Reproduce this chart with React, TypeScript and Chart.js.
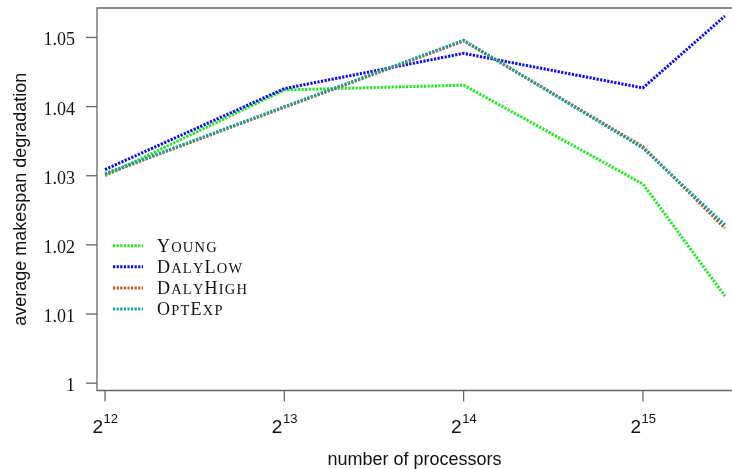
import React, { useEffect, useRef } from "react";
import { Chart, registerables } from "chart.js";

Chart.register(...registerables);

// ---- data ----
const processors = [4096, 8192, 16384, 32768, 45000];
const xTickExponents = [12, 13, 14, 15];
const yTickValues = [1, 1.01, 1.02, 1.03, 1.04, 1.05];
const seriesNames = ["Young", "DalyLow", "DalyHigh", "OptExp"];
const youngValues = [1.03, 1.0424, 1.0431, 1.0288, 1.0126];
const dalyLowValues = [1.0309, 1.0426, 1.0477, 1.0427, 1.0531];
const dalyHighValues = [1.0302, 1.0399, 1.0495, 1.0342, 1.0224];
const optExpValues = [1.0303, 1.04, 1.0496, 1.034, 1.0229];
const seriesColors = ["#1eea1e", "#0a0aff", "#b85a26", "#1a9e9e"];
const xAxisTitle = "number of processors";
const yAxisTitle = "average makespan degradation";

const allSeries = [youngValues, dalyLowValues, dalyHighValues, optExpValues];

const AXIS_COLOR = "#666666";
const DASH = [2.2, 1.4];
const LINE_W = 3;

function drawSmallCaps(ctx: CanvasRenderingContext2D, text: string, x: number, y: number) {
  let cx = x;
  for (const ch of text) {
    const upper = ch === ch.toUpperCase();
    ctx.font = upper ? "18px 'Liberation Serif'" : "14.5px 'Liberation Serif'";
    const c = ch.toUpperCase();
    ctx.fillText(c, cx, y);
    cx += ctx.measureText(c).width + 1.2;
  }
}

const decorPlugin = {
  id: "decor",
  afterDraw(chart: any) {
    const ctx: CanvasRenderingContext2D = chart.ctx;
    const { left, right, top, bottom } = chart.chartArea;
    const xs = chart.scales.x;
    const ys = chart.scales.y;
    ctx.save();
    ctx.strokeStyle = AXIS_COLOR;
    ctx.lineWidth = 1.3;
    ctx.setLineDash([]);
    // box: left, top, bottom
    ctx.beginPath();
    ctx.moveTo(chart.width, top);
    ctx.lineTo(left, top);
    ctx.lineTo(left, bottom);
    ctx.lineTo(chart.width, bottom);
    ctx.stroke();
    // y ticks
    ctx.fillStyle = "#111";
    ctx.textAlign = "right";
    ctx.textBaseline = "alphabetic";
    ctx.font = "18px 'Liberation Serif'";
    for (const v of yTickValues) {
      const py = ys.getPixelForValue(v);
      ctx.beginPath();
      ctx.moveTo(left - 11, py);
      ctx.lineTo(left, py);
      ctx.stroke();
      ctx.fillText(String(v), left - 22, py + 8);
    }
    // x ticks
    for (const e of xTickExponents) {
      const px = xs.getPixelForValue(e);
      ctx.beginPath();
      ctx.moveTo(px, bottom);
      ctx.lineTo(px, bottom + 11);
      ctx.stroke();
      ctx.font = "19px 'Liberation Sans'";
      const wBase = ctx.measureText("2").width;
      ctx.font = "13px 'Liberation Sans'";
      const wExp = ctx.measureText(String(e)).width;
      const x0 = px - (wBase + wExp) / 2;
      ctx.textAlign = "left";
      ctx.font = "19px 'Liberation Sans'";
      ctx.fillText("2", x0, bottom + 42.5);
      ctx.font = "13px 'Liberation Sans'";
      ctx.fillText(String(e), x0 + wBase + 0.5, bottom + 32.5);
    }
    // axis titles
    ctx.font = "18px 'Liberation Sans'";
    ctx.textAlign = "center";
    ctx.fillText(xAxisTitle, (left + right) / 2, 465);
    ctx.save();
    ctx.translate(26, (top + bottom) / 2);
    ctx.rotate(-Math.PI / 2);
    ctx.fillText(yAxisTitle, 0, 0);
    ctx.restore();
    // legend
    const legendBaseY = 251.7;
    const legendStep = 21.1;
    seriesNames.forEach((name, i) => {
      const by = legendBaseY + i * legendStep;
      ctx.strokeStyle = seriesColors[i];
      ctx.lineWidth = LINE_W;
      ctx.setLineDash(DASH);
      ctx.beginPath();
      ctx.moveTo(113, by - 6);
      ctx.lineTo(143, by - 6);
      ctx.stroke();
      ctx.setLineDash([]);
      ctx.fillStyle = "#111";
      ctx.textAlign = "left";
      drawSmallCaps(ctx, name, 157, by);
    });
    ctx.restore();
  },
};

export default function App() {
  const ref = useRef<HTMLCanvasElement | null>(null);
  useEffect(() => {
    if (!ref.current) return;
    const xVals = processors.map((p) => Math.log2(p));
    const chart = new Chart(ref.current, {
      type: "line",
      data: {
        datasets: allSeries.map((vals, i) => ({
          label: seriesNames[i],
          data: vals.map((v, j) => ({ x: xVals[j], y: v })),
          borderColor: seriesColors[i],
          backgroundColor: seriesColors[i],
          borderWidth: LINE_W,
          borderDash: DASH,
          borderCapStyle: "butt" as const,
          pointRadius: 0,
          tension: 0,
          fill: false,
          order: allSeries.length - 1 - i,
        })),
      },
      options: {
        animation: false,
        responsive: false,
        devicePixelRatio: 1,
        layout: { padding: { left: 97, top: 8, right: 0, bottom: 78.5 } },
        plugins: { legend: { display: false }, tooltip: { enabled: false }, title: { display: false } },
        scales: {
          x: { type: "linear", display: false, min: 11.955, max: 15.497 },
          y: { type: "linear", display: false, min: 0.99894, max: 1.05426 },
        },
      },
      plugins: [decorPlugin],
    });
    return () => chart.destroy();
  }, []);
  return (
    <div style={{ position: "fixed", left: 0, top: 0, width: 732, height: 469, background: "#fff" }}>
      <canvas ref={ref} width={732} height={469} style={{ width: 732, height: 469, display: "block" }} />
    </div>
  );
}
